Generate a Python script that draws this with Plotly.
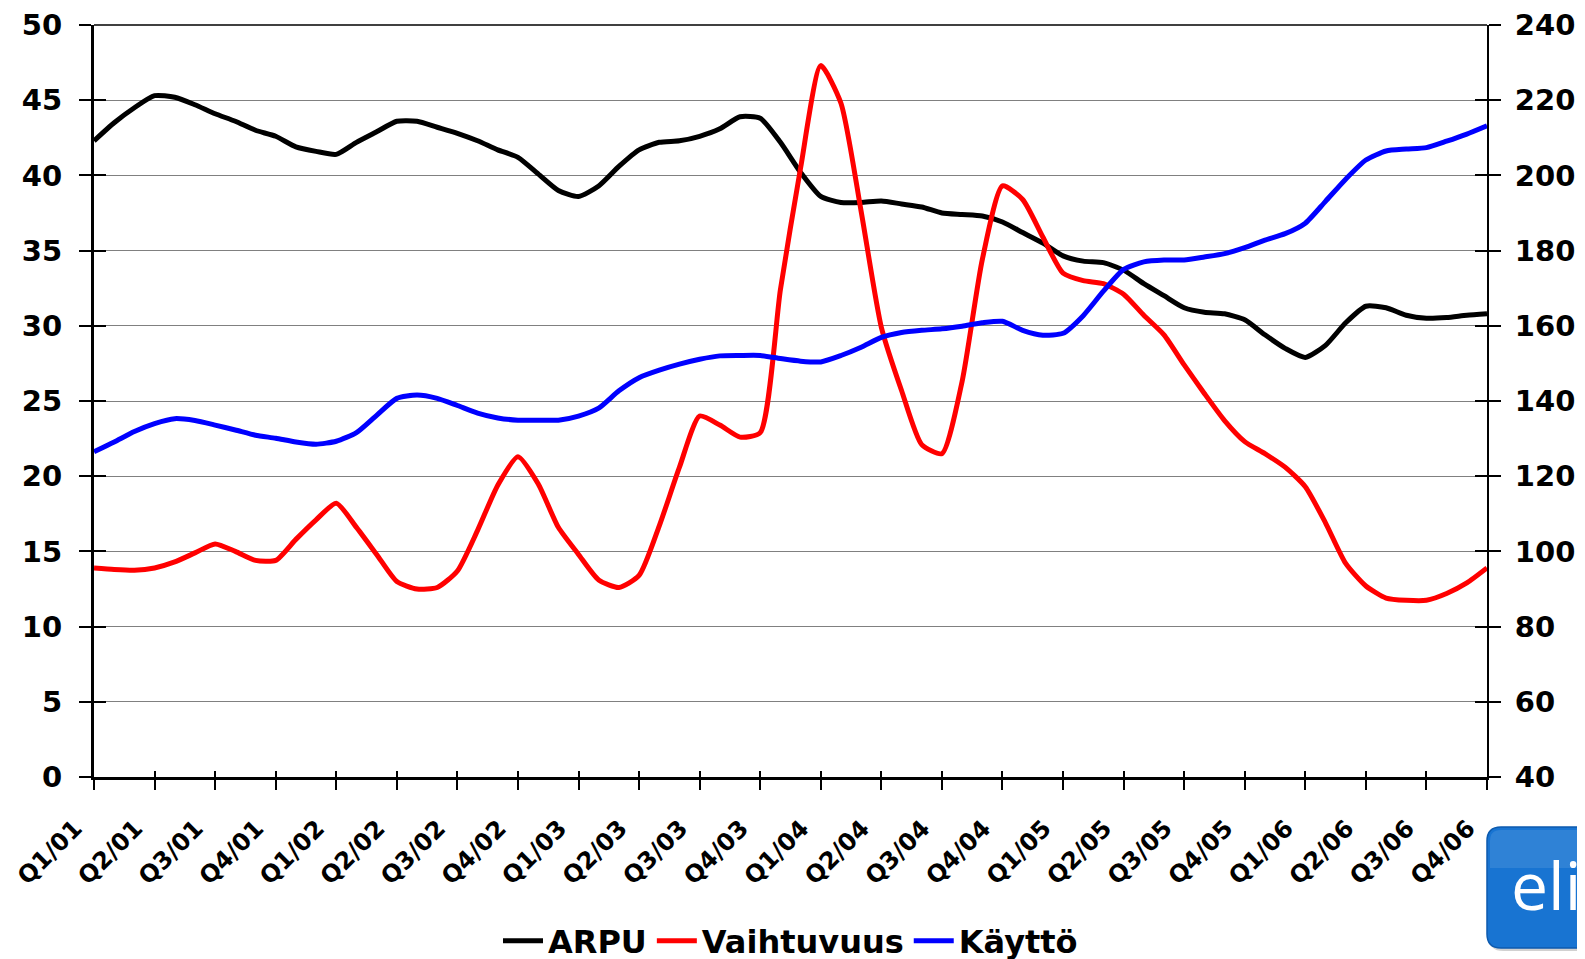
import plotly.graph_objects as go

quarters = ["Q1/01","Q2/01","Q3/01","Q4/01","Q1/02","Q2/02","Q3/02","Q4/02",
            "Q1/03","Q2/03","Q3/03","Q4/03","Q1/04","Q2/04","Q3/04","Q4/04",
            "Q1/05","Q2/05","Q3/05","Q4/05","Q1/06","Q2/06","Q3/06","Q4/06"]

# monthly readings, Q1/01 ... Q4/06 (70 points, 3 per quarter)
arpu = [42.3, 43.5, 44.5, 45.3, 45.2, 44.7, 44.1, 43.6, 43.0, 42.6, 41.9, 41.6, 41.4,
        42.2, 42.9, 43.6, 43.6, 43.2, 42.8, 42.3, 41.7, 41.2, 40.1, 39.0, 38.6,
        39.3, 40.6, 41.7, 42.2, 42.3, 42.6, 43.1, 43.9, 43.8, 42.2, 40.2, 38.6,
        38.2, 38.2, 38.3, 38.1, 37.9, 37.5, 37.4, 37.3, 36.9, 36.2, 35.5, 34.65,
        34.3, 34.2, 33.7, 32.8, 32.0, 31.2, 30.9, 30.8, 30.4, 29.4, 28.5, 27.9,
        28.7, 30.2, 31.3, 31.2, 30.7, 30.5, 30.55, 30.7, 30.8]

vaihtuvuus = [13.9, 13.8, 13.75, 13.9, 14.3, 14.9, 15.5, 15.0, 14.4, 14.4, 15.8, 17.1, 18.2,
              16.6, 14.8, 13.0, 12.5, 12.6, 13.7, 16.4, 19.4, 21.3, 19.5, 16.6, 14.8,
              13.1, 12.6, 13.4, 16.7, 20.6, 24.0, 23.4, 22.6, 22.9, 32.4, 40.5, 47.3,
              44.8, 37.6, 29.9, 25.7, 22.1, 21.5, 26.3, 34.4, 39.3, 38.4, 35.9, 33.5,
              33.0, 32.8, 32.1, 30.7, 29.4, 27.4, 25.5, 23.7, 22.3, 21.5, 20.6, 19.3,
              16.9, 14.2, 12.7, 11.9, 11.75, 11.75, 12.2, 12.9, 13.9]

kaytto = [126.5, 129.1, 131.9, 134.0, 135.3, 134.8, 133.6, 132.3, 130.9, 130.1, 129.1, 128.5, 129.3,
          131.6, 136.2, 140.7, 141.6, 140.7, 138.8, 136.8, 135.5, 134.9, 134.9, 134.9, 136.0,
          138.1, 142.7, 146.2, 148.2, 149.8, 151.1, 152.0, 152.1, 152.1, 151.3, 150.6, 150.4,
          152.1, 154.3, 156.9, 158.2, 158.8, 159.2, 159.9, 160.8, 161.2, 158.8, 157.5, 158.0,
          162.7, 169.2, 175.0, 177.0, 177.5, 177.5, 178.3, 179.2, 180.8, 182.8, 184.5, 187.3,
          193.1, 199.0, 204.1, 206.5, 207.0, 207.4, 209.1, 211.0, 213.2]

logo_text = "eli"

months = list(range(len(arpu)))
quarter_pos = [3 * i for i in range(len(quarters))]

BOLD = dict(family="DejaVu Sans", color="black", weight="bold")

fig = go.Figure()
fig.add_trace(go.Scatter(x=months, y=arpu, name="ARPU", mode="lines",
                         line=dict(color="#000000", width=5, shape="spline", smoothing=0.6)))
fig.add_trace(go.Scatter(x=months, y=vaihtuvuus, name="Vaihtuvuus", mode="lines",
                         line=dict(color="#FF0000", width=5, shape="spline", smoothing=0.6)))
fig.add_trace(go.Scatter(x=months, y=kaytto, name="Käyttö", mode="lines", yaxis="y2",
                         line=dict(color="#0000FF", width=5, shape="spline", smoothing=0.6)))
# helper traces for the inner half of the crossing tick marks
fig.add_trace(go.Scatter(x=[None], y=[None], yaxis="y3", showlegend=False, hoverinfo="skip"))
fig.add_trace(go.Scatter(x=[None], y=[None], yaxis="y4", showlegend=False, hoverinfo="skip"))
fig.add_trace(go.Scatter(x=[None], y=[None], xaxis="x2", showlegend=False, hoverinfo="skip"))

xr = [0, months[-1]]
fig.update_layout(
    width=1585, height=959,
    margin=dict(l=86, r=106, t=17, b=190, autoexpand=False),
    paper_bgcolor="white", plot_bgcolor="white",
    showlegend=True,
    legend=dict(orientation="h", x=0.5, xanchor="center", y=-0.218, yanchor="middle",
                font=dict(size=32, **BOLD), bgcolor="rgba(0,0,0,0)", itemwidth=40),
    xaxis=dict(range=xr, tickmode="array", tickvals=quarter_pos, ticktext=quarters,
               tickangle=-45, tickfont=dict(size=24, **BOLD),
               ticklabelstandoff=15, ticklabelshift=-19, ticklabeloverflow="allow",
               ticks="outside", ticklen=10, tickwidth=2, tickcolor="black",
               showline=True, linecolor="black", linewidth=2.5,
               showgrid=False, zeroline=False),
    xaxis2=dict(range=xr, overlaying="x", side="bottom", anchor="y",
                tickmode="array", tickvals=quarter_pos, showticklabels=False,
                ticks="inside", ticklen=6, tickwidth=2, tickcolor="black",
                showline=False, showgrid=False, zeroline=False),
    yaxis=dict(range=[0, 50], dtick=5, tickfont=dict(size=29, **BOLD),
               ticks="outside", ticklen=12, tickwidth=2, tickcolor="black",
               ticklabelstandoff=11,
               showline=True, linecolor="black", linewidth=3,
               showgrid=True, gridcolor="#808080", gridwidth=1.4, zeroline=False),
    yaxis2=dict(range=[40, 240], dtick=20, overlaying="y", side="right",
                tickfont=dict(size=29, **BOLD),
                ticks="outside", ticklen=12, tickwidth=2, tickcolor="black",
                ticklabelstandoff=8,
                showline=True, linecolor="black", linewidth=2,
                showgrid=False, zeroline=False),
    yaxis3=dict(range=[0, 50], dtick=5, overlaying="y", side="left",
                ticks="inside", ticklen=12, tickwidth=2, tickcolor="black",
                showticklabels=False, showline=False, showgrid=False, zeroline=False),
    yaxis4=dict(range=[40, 240], dtick=20, overlaying="y", side="right",
                ticks="inside", ticklen=12, tickwidth=2, tickcolor="black",
                showticklabels=False, showline=False, showgrid=False, zeroline=False),
)

# top border of the plot area
fig.add_shape(type="line", xref="paper", yref="paper", x0=0, x1=1, y0=1, y1=1,
              line=dict(color="black", width=1.5))

# logo box (bottom right, partly cut off); px/py take page pixel positions
W, H = 1393.0, 752.0
def px(xp):
    return (xp - 94) / W
def py(yp):
    return (777 - yp) / H
x0, x1, y0, y1 = px(1487), px(1620), py(827), py(948)
rx, ry = 14 / W, 14 / H
def rounded(dx, dy):
    a0, a1, b0, b1 = x0 + dx / W, x1, y0 - dy / H, y1 - dy / H
    return (f"M {a0+rx} {b0} L {a1} {b0} L {a1} {b1} L {a0+rx} {b1} "
            f"Q {a0} {b1} {a0} {b1+ry} L {a0} {b0-ry} Q {a0} {b0} {a0+rx} {b0} Z")
fig.add_shape(type="path", xref="paper", yref="paper", path=rounded(2, 3),
              fillcolor="rgba(0,0,0,0.18)", line=dict(width=0), layer="above")
fig.add_shape(type="path", xref="paper", yref="paper", path=rounded(0, 0),
              fillcolor="#1874d2", line=dict(color="#0c5aae", width=1.5), layer="above")
fig.add_shape(type="path", xref="paper", yref="paper",
              path=(f"M {x0+rx} {y0-3/H} L {x1} {y0-3/H} L {x1} {py(868)} L {x0+3/W} {py(868)} "
                    f"L {x0+3/W} {y0-ry} Q {x0+3/W} {y0-3/H} {x0+rx} {y0-3/H} Z"),
              fillcolor="rgba(255,255,255,0.10)", line=dict(width=0), layer="above")
fig.add_annotation(xref="paper", yref="paper", x=px(1510), y=py(884), xanchor="left",
                   yanchor="middle", text=logo_text, showarrow=False, borderpad=0,
                   font=dict(family="Open Sans", size=66, color="white"))

fig.write_html("out.html")
